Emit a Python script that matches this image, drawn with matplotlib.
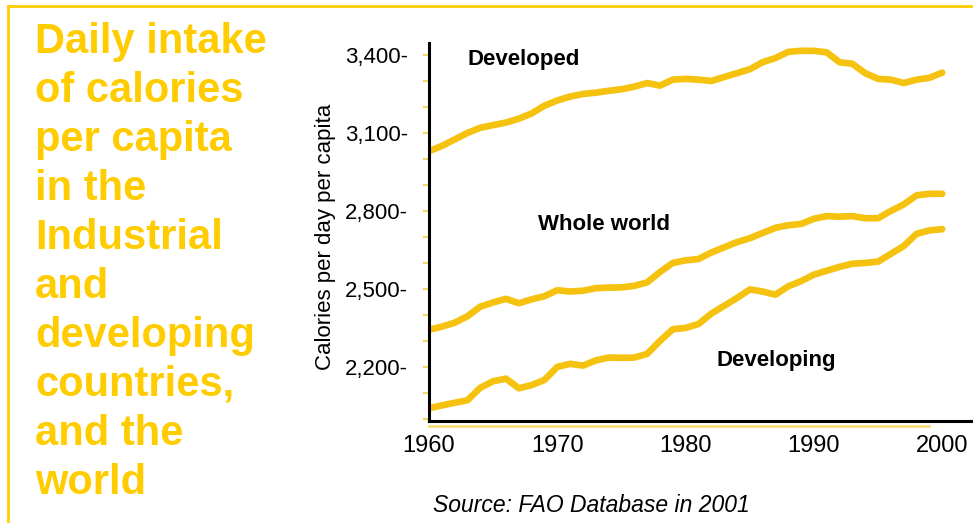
import matplotlib.pyplot as plt
from matplotlib.lines import Line2D
from matplotlib.ticker import MultipleLocator, FixedLocator

# Daily calories per capita (FAO)
years = list(range(1960, 2001))
developed = [3030, 3050, 3075, 3100, 3120, 3130, 3140, 3155, 3175, 3205,
             3225, 3240, 3250, 3255, 3262, 3268, 3278, 3292, 3282, 3305,
             3308, 3305, 3300, 3315, 3330, 3345, 3372, 3388, 3412, 3416,
             3416, 3410, 3372, 3366, 3330, 3308, 3305, 3292, 3305, 3312,
             3332]
world = [2343, 2355, 2370, 2395, 2432, 2448, 2462, 2445, 2460, 2472,
         2495, 2490, 2493, 2503, 2505, 2506, 2512, 2525, 2565, 2600,
         2610, 2615, 2640, 2660, 2680, 2695, 2715, 2735, 2745, 2750,
         2770, 2780, 2778, 2780, 2772, 2772, 2800, 2825, 2860, 2866,
         2866]
developing = [2041, 2052, 2062, 2072, 2120, 2145, 2155, 2118, 2130, 2150,
              2200, 2212, 2205, 2225, 2236, 2235, 2236, 2250, 2300, 2345,
              2350, 2365, 2405, 2435, 2465, 2498, 2490, 2478, 2510, 2530,
              2555, 2570, 2585, 2597, 2600, 2605, 2635, 2665, 2712, 2725,
              2730]

ytick_vals = [2200, 2500, 2800, 3100, 3400]
ytick_labels = ['2,200-', '2,500-', '2,800-', '3,100-', '3,400-']
xtick_vals = [1960, 1970, 1980, 1990, 2000]

title_lines = ['Daily intake', 'of calories', 'per capita', 'in the',
               'Industrial', 'and', 'developing', 'countries,', 'and the',
               'world']

GOLD = '#FFCC00'
LINE = '#F5C20F'
FONT = 'Liberation Sans'

W, H = 973, 523
fig = plt.figure(figsize=(W / 100, H / 100), dpi=100)

# yellow frame (top and left edges)
fig.add_artist(Line2D([8 / W, 1], [1 - 6 / H, 1 - 6 / H], color=GOLD, lw=2))
fig.add_artist(Line2D([8 / W, 8 / W], [0, 1 - 6 / H], color=GOLD, lw=2))

# title block on the left
for i, line in enumerate(title_lines):
    y = 1 - (53 + i * 49) / H
    fig.text(35 / W, y, line, color=GOLD, fontsize=30, fontweight='bold',
             family=FONT, va='baseline', ha='left')

ax = fig.add_axes([429 / W, 1 - 421 / H, (W - 429) / W, (421 - 43) / H])
for series in (developed, world, developing):
    ax.plot(years, series, color=LINE, lw=4.8, solid_capstyle='round',
            solid_joinstyle='round')

ax.set_xlim(1960, 2002.4)
ax.set_ylim(1992, 3446)

ax.spines['top'].set_visible(False)
ax.spines['right'].set_visible(False)
ax.spines['left'].set_linewidth(2.2)
ax.spines['bottom'].set_linewidth(2.2)

ax.yaxis.set_major_locator(FixedLocator(ytick_vals))
ax.set_yticklabels(ytick_labels, family=FONT, fontsize=16)
ax.yaxis.set_minor_locator(MultipleLocator(100))
ax.tick_params(axis='y', which='both', length=4, width=1.5,
               color='#F3D36A', pad=11)

ax.set_xticks(xtick_vals)
ax.set_xticklabels([str(v) for v in xtick_vals], family=FONT, fontsize=17)
ax.tick_params(axis='x', length=0, pad=10)

# faint yellow shadow beneath x axis
ax.plot([0.0, 0.92], [-0.012, -0.012], transform=ax.transAxes,
        color='#F6DC7A', lw=2, clip_on=False)

ax.set_ylabel('Calories per day per capita', fontsize=16, family=FONT)
ax.yaxis.set_label_coords((336 - 429) / (W - 429), (421 - 237) / (421 - 43))

ax.text(1963.0, 3381, 'Developed', fontsize=16, fontweight='bold',
        family=FONT, va='center', ha='left')
ax.text(1968.5, 2746, 'Whole world', fontsize=16, fontweight='bold',
        family=FONT, va='center', ha='left')
ax.text(1982.4, 2225, 'Developing', fontsize=16, fontweight='bold',
        family=FONT, va='center', ha='left')

fig.text(433 / W, 1 - 505 / H, 'Source: FAO Database in 2001', fontsize=16.5,
         style='italic', family=FONT, va='center', ha='left')

fig.savefig('out.png', dpi=100)
